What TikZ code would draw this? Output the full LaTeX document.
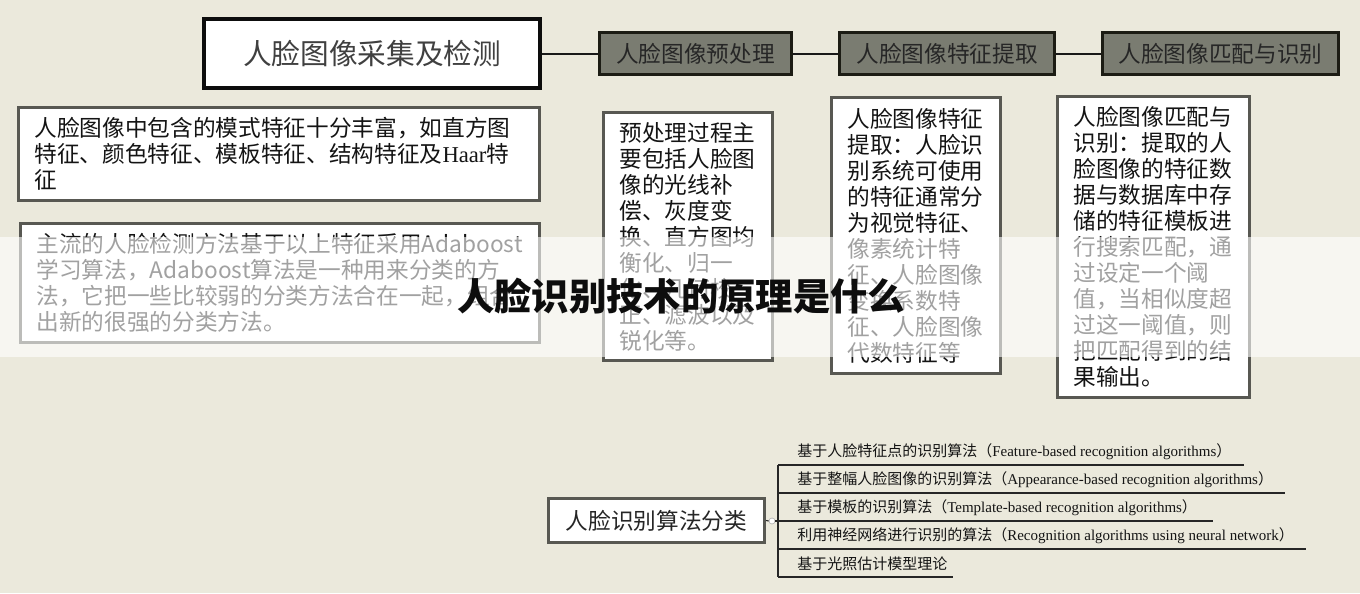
\documentclass[tikz,border=0pt]{standalone}
\usepackage{fontspec}
\setmainfont{Noto Sans CJK SC}
\newfontfamily\lserif{Liberation Serif}
\newdimen\pxu \pxu=0.75pt
\definecolor{bg}{RGB}{235,233,220}
\definecolor{grayfill}{RGB}{122,124,113}
\definecolor{darkb}{RGB}{28,28,20}
\definecolor{descb}{RGB}{88,88,82}
\definecolor{txt}{RGB}{20,20,20}
\tikzset{
  mainbox/.style={draw=black!95, line width=3pt, fill=white, inner sep=0pt,
    font=\fontsize{21.5pt}{24pt}\selectfont, text=black!75},
  stagebox/.style={draw=darkb, line width=2.25pt, fill=grayfill, inner sep=0pt,
    minimum height=42\pxu, font=\fontsize{17pt}{20pt}\selectfont, text=black!85},
  descbox/.style={draw=descb, line width=2.25pt, fill=white, inner xsep=16\pxu,
    inner ysep=0pt, align=left, text=txt, font=\fontsize{17pt}{19.5pt}\selectfont},
  algbox/.style={draw=descb, line width=2.25pt, fill=white, inner sep=0pt,
    text=black!85, font=\fontsize{17pt}{20pt}\selectfont},
  itemtext/.style={anchor=west, inner sep=0pt, text=txt, font=\fontsize{11.25pt}{13pt}\selectfont},
  link/.style={line width=1.5pt, draw=black!90},
  thinlink/.style={line width=0.8pt, draw=black!85},
}
\begin{document}
\begin{tikzpicture}[x=0.75pt,y=-0.75pt]
\fill[bg] (0,0) rectangle (1360,593);
\useasboundingbox (0,0) rectangle (1360,593);

% top row
\node[mainbox, minimum width=336\pxu, minimum height=69\pxu] (b1) at (372,53.5) {人脸图像采集及检测};
\node[stagebox, minimum width=192\pxu] (b2) at (695.5,53.5) {人脸图像预处理};
\node[stagebox, minimum width=215\pxu] (b3) at (947,53.5) {人脸图像特征提取};
\node[stagebox, minimum width=236\pxu] (b4) at (1220.5,53.5) {人脸图像匹配与识别};
\draw[link] (b1.east) -- (b2.west);
\draw[link] (b2.east) -- (b3.west);
\draw[link] (b3.east) -- (b4.west);

% description boxes
\node[descbox, text width=489\pxu, minimum height=93\pxu] (da) at (279,154)
  {人脸图像中包含的模式特征十分丰富，如直方图\\特征、颜色特征、模板特征、结构特征及{\lserif Haar}特\\征};
\node[descbox, text width=487\pxu, minimum height=119\pxu] (db) at (280,283)
  {主流的人脸检测方法基于以上特征采用Adaboost\\学习算法，Adaboost算法是一种用来分类的方\\法，它把一些比较弱的分类方法合在一起，组合\\出新的很强的分类方法。};
\node[descbox, text width=137\pxu, minimum height=248\pxu] (dc) at (688,236.5)
  {预处理过程主\\要包括人脸图\\像的光线补\\偿、灰度变\\换、直方图均\\衡化、归一\\化、几何校\\正、滤波以及\\锐化等。};
\node[descbox, text width=137\pxu, minimum height=276\pxu] (dd) at (916,235.5)
  {人脸图像特征\\提取：人脸识\\别系统可使用\\的特征通常分\\为视觉特征、\\像素统计特\\征、人脸图像\\变换系数特\\征、人脸图像\\代数特征等};
\node[descbox, text width=160\pxu, minimum height=301\pxu] (de) at (1153.5,247)
  {人脸图像匹配与\\识别：提取的人\\脸图像的特征数\\据与数据库中存\\储的特征模板进\\行搜索匹配，通\\过设定一个阈\\值，当相似度超\\过这一阈值，则\\把匹配得到的结\\果输出。};

% bottom tree
\node[algbox, minimum width=216\pxu, minimum height=44\pxu] (alg) at (656.5,520.5) {人脸识别算法分类};
\node[circle, draw=gray!60, fill=white, line width=0.5pt, inner sep=0pt, minimum size=6\pxu] (knob) at (772,521) {};
\coordinate (u1s) at (778,465); \coordinate (u1e) at (1244,465);
\coordinate (u2s) at (778,493); \coordinate (u2e) at (1285,493);
\coordinate (u3s) at (778,521); \coordinate (u3e) at (1213,521);
\coordinate (u4s) at (778,549); \coordinate (u4e) at (1306,549);
\coordinate (u5s) at (778,577); \coordinate (u5e) at (953,577);
\draw[thinlink] (alg.east) -- (knob.west);
\draw[thinlink] (knob.east) -- (u3s);
\draw[thinlink] (u1s) -- (u5s);
\draw[thinlink] (u1s) -- (u1e);
\draw[thinlink] (u2s) -- (u2e);
\draw[thinlink] (u3s) -- (u3e);
\draw[thinlink] (u4s) -- (u4e);
\draw[thinlink] (u5s) -- (u5e);
\node[itemtext] (i1) at (797,452) {基于人脸特征点的识别算法（{\lserif Feature-based recognition algorithms}）};
\node[itemtext] (i2) at (797,480) {基于整幅人脸图像的识别算法（{\lserif Appearance-based recognition algorithms}）};
\node[itemtext] (i3) at (797,508) {基于模板的识别算法（{\lserif Template-based recognition algorithms}）};
\node[itemtext] (i4) at (797,536) {利用神经网络进行识别的算法（{\lserif Recognition algorithms using neural network}）};
\node[itemtext] (i5) at (797,564) {基于光照估计模型理论};

% translucent band and title
\fill[white, opacity=0.6] (0,237) rectangle (1360,357);
\node[inner sep=0pt, text=black!95, font=\fontsize{28pt}{30pt}\selectfont\bfseries] (title) at (681,296) {人脸识别技术的原理是什么};
\end{tikzpicture}
\end{document}
